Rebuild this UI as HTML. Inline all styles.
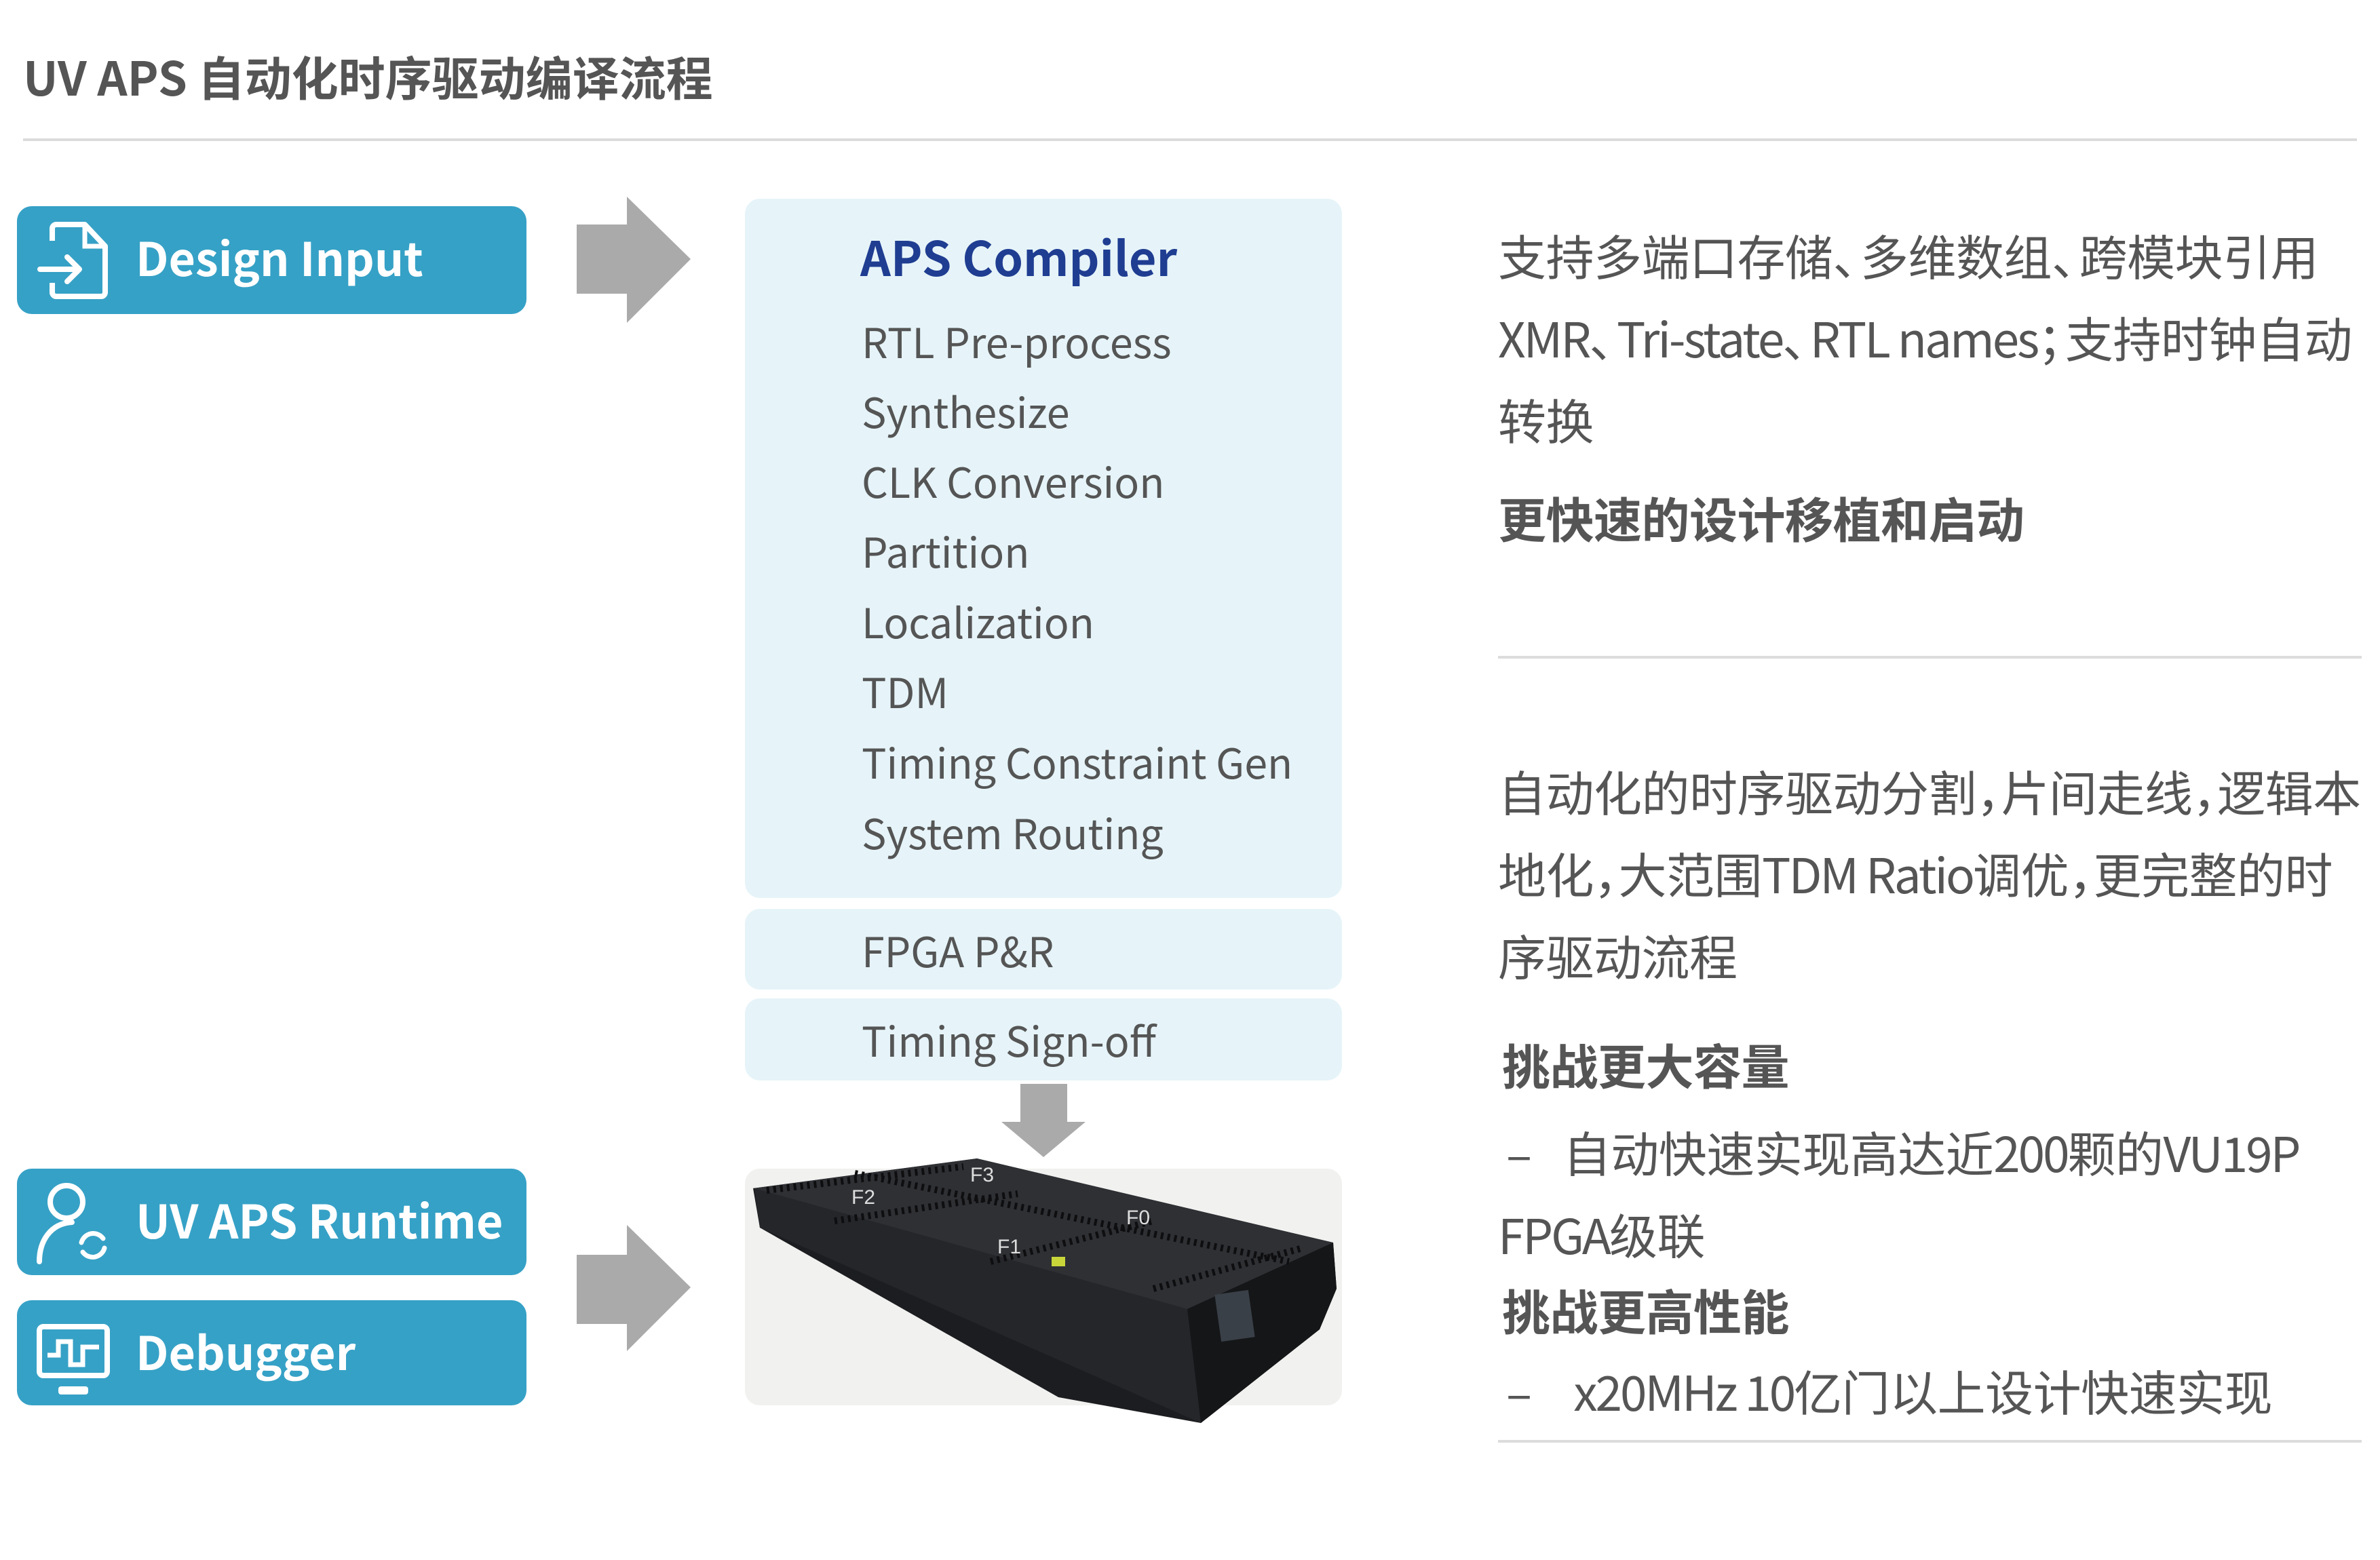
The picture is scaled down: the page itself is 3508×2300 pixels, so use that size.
<!DOCTYPE html>
<html><head><meta charset="utf-8"><style>
html,body{margin:0;padding:0;}
body{width:3508px;height:2300px;position:relative;background:#fff;overflow:hidden;font-family:"Noto Sans CJK SC","Liberation Sans",sans-serif;color:#555;}
.a{position:absolute;white-space:nowrap;}
.btn{position:absolute;left:25px;width:751px;background:#36a1c6;border-radius:22px;}
.bt{position:absolute;left:200px;color:#fff;font-weight:bold;font-size:68px;}
.lb{position:absolute;left:1098px;width:880px;background:#e6f4f9;border-radius:22px;}
.it{position:absolute;left:1270px;font-size:61px;color:#555;line-height:80px;}
.r{position:absolute;left:2208px;font-size:71px;color:#555;line-height:90px;white-space:nowrap;letter-spacing:-0.5px;}
.rb{font-weight:bold;}
.n{margin-right:-30px;}
.c{margin-right:-34px;}
.l{letter-spacing:-3px;}
</style></head><body>
<div class="a" style="left:34px;top:66px;font-size:69px;font-weight:bold;color:#555;line-height:90px;">UV APS 自动化时序驱动编译流程</div>
<div class="a" style="left:34px;top:204px;width:3440px;height:4px;background:#dcdcdc;"></div>

<div class="btn" style="top:304px;height:159px;"></div>
<svg class="a" style="left:55px;top:325px" width="110" height="120" viewBox="0 0 110 120"><path d="M22 30 V12 a6 6 0 0 1 6-6 H70 L100 38 V106 a6 6 0 0 1-6 6 H28 a6 6 0 0 1-6-6 V92" fill="none" stroke="#fff" stroke-width="8" stroke-linejoin="round"/><path d="M70 6 V38 H100" fill="none" stroke="#fff" stroke-width="7"/><path d="M4 72 H62 M44 54 L62 72 L44 90" fill="none" stroke="#fff" stroke-width="8" stroke-linecap="round" stroke-linejoin="round"/></svg>
<div class="bt" style="top:333px;line-height:90px;">Design Input</div>

<div class="btn" style="top:1723px;height:157px;"></div>
<svg class="a" style="left:50px;top:1740px" width="120" height="125" viewBox="0 0 120 125"><circle cx="48" cy="32" r="24" fill="none" stroke="#fff" stroke-width="8"/><path d="M8 120 C8 90 24 64 56 62" fill="none" stroke="#fff" stroke-width="8" stroke-linecap="round"/><path d="M70 92 a18 18 0 0 1 32 -6 M104 100 a18 18 0 0 1 -32 6" fill="none" stroke="#fff" stroke-width="7" stroke-linecap="round"/></svg>
<div class="bt" style="top:1752px;line-height:90px;">UV APS Runtime</div>

<div class="btn" style="top:1917px;height:155px;"></div>
<svg class="a" style="left:52px;top:1950px" width="115" height="120" viewBox="0 0 115 120"><rect x="6" y="6" width="100" height="72" rx="6" fill="none" stroke="#fff" stroke-width="8"/><path d="M18 48 H34 V28 H52 V62 H70 V36 H94" fill="none" stroke="#fff" stroke-width="7"/><rect x="34" y="94" width="44" height="12" rx="4" fill="#fff"/></svg>
<div class="bt" style="top:1946px;line-height:90px;">Debugger</div>

<svg class="a" style="left:850px;top:290px" width="170" height="186"><polygon points="0,41 74,41 74,0 168,92 74,186 74,143 0,143" fill="#aaaaaa"/></svg>
<svg class="a" style="left:850px;top:1806px" width="170" height="186"><polygon points="0,44 74,44 74,0 168,92 74,186 74,146 0,146" fill="#aaaaaa"/></svg>
<svg class="a" style="left:1476px;top:1598px" width="126" height="110"><polygon points="28,0 97,0 97,56 124,56 62,108 0,56 28,56" fill="#aaaaaa"/></svg>

<div class="lb" style="top:293px;height:1031px;"></div>
<div class="a" style="left:1268px;top:333px;font-size:70px;font-weight:bold;color:#1f3d91;line-height:90px;">APS Compiler</div>
<div class="it" style="top:462px;">RTL Pre-process</div>
<div class="it" style="top:565px;">Synthesize</div>
<div class="it" style="top:668px;">CLK Conversion</div>
<div class="it" style="top:771px;">Partition</div>
<div class="it" style="top:875px;">Localization</div>
<div class="it" style="top:978px;">TDM</div>
<div class="it" style="top:1082px;">Timing Constraint Gen</div>
<div class="it" style="top:1186px;">System Routing</div>

<div class="lb" style="top:1340px;height:119px;"></div>
<div class="it" style="top:1360px;">FPGA P&amp;R</div>
<div class="lb" style="top:1472px;height:121px;"></div>
<div class="it" style="top:1492px;">Timing Sign-off</div>

<div class="lb" style="top:1723px;height:349px;background:#f1f1ef;"></div>
<svg class="a" style="left:1098px;top:1690px" width="900" height="420" viewBox="1098 1690 900 420">
<polygon points="1110,1752 1440,1708 1965,1832 1970,1900 1945,1960 1770,2098 1560,2060 1120,1810" fill="#1c1d20"/>
<polygon points="1110,1752 1440,1708 1965,1832 1750,1930" fill="#2e3034"/>
<polygon points="1750,1930 1965,1832 1970,1900 1945,1960 1770,2098" fill="#151618"/>
<polygon points="1112,1752 1750,1930 1770,2098 1120,1810" fill="#24262a"/>
<rect x="1795" y="1905" width="50" height="70" fill="#3a4048" transform="rotate(-8 1820 1940)"/>
<rect x="1550" y="1853" width="20" height="14" fill="#c8d63a"/>
<g stroke="#0e0e10" stroke-width="10" stroke-dasharray="4 6"><line x1="1130" y1="1755" x2="1420" y2="1720"/><line x1="1230" y1="1800" x2="1500" y2="1760"/><line x1="1460" y1="1860" x2="1700" y2="1800"/><line x1="1700" y1="1900" x2="1920" y2="1840"/><line x1="1260" y1="1730" x2="1900" y2="1860"/></g>
<g fill="#ddd" font-size="30" font-family="Liberation Sans"><text x="1255" y="1775">F2</text><text x="1430" y="1742">F3</text><text x="1470" y="1848">F1</text><text x="1660" y="1805">F0</text></g>
</svg>

<div class="r" style="top:331px;">支持多端口存储<span class="n">、</span>多维数组<span class="n">、</span>跨模块引用</div>
<div class="r" style="top:452px;"><span class="l">XMR</span><span class="n">、</span><span class="l">Tri-state</span><span class="n">、</span><span class="l">RTL names</span><span class="n">；</span>支持时钟自动</div>
<div class="r" style="top:573px;">转换</div>
<div class="r rb" style="top:718px;">更快速的设计移植和启动</div>
<div class="a" style="left:2208px;top:967px;width:1273px;height:4px;background:#dcdcdc;"></div>
<div class="r" style="top:1121px;">自动化的时序驱动分割<span class="c">，</span>片间走线<span class="c">，</span>逻辑本</div>
<div class="r" style="top:1242px;">地化<span class="c">，</span>大范围<span class="l">TDM Ratio</span>调优<span class="c">，</span>更完整的时</div>
<div class="r" style="top:1363px;">序驱动流程</div>
<div class="r rb" style="top:1524px;left:2214px;">挑战更大容量</div>
<div class="r" style="top:1653px;left:2220px;">–&nbsp;&nbsp;&nbsp;自动快速实现高达近<span class="l">200</span>颗的<span class="l">VU19P</span></div>
<div class="r" style="top:1774px;"><span class="l">FPGA</span>级联</div>
<div class="r rb" style="top:1886px;left:2214px;">挑战更高性能</div>
<div class="r" style="top:2005px;left:2220px;">–&nbsp;&nbsp;&nbsp;&nbsp;<span class="l">x20MHz 10</span>亿门以上设计快速实现</div>
<div class="a" style="left:2208px;top:2123px;width:1273px;height:4px;background:#dcdcdc;"></div>
</body></html>
